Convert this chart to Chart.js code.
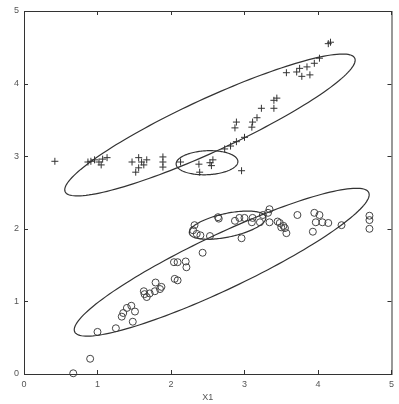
<!DOCTYPE html>
<html>
<head>
<meta charset="utf-8">
<script src="https://cdn.jsdelivr.net/npm/chart.js@4/dist/chart.umd.min.js"></script>
<style>
    html, body { margin: 0; padding: 0; background: #fff; }
    canvas { display: block; }
</style>
</head>
<body>
<canvas id="chart" width="399" height="404"></canvas>
<script>
// ===== Data =====

// '+' class
const plusX = [0.42, 0.87, 0.91, 0.96, 1.02, 1.05, 1.07, 1.13, 1.47, 1.56, 1.60, 1.63, 1.67, 1.56, 1.52,
    1.89, 1.89, 1.89, 2.13, 2.38, 2.39, 2.53, 2.57, 2.55, 2.96, 2.73, 2.81, 2.89, 3.00, 2.87, 2.89,
    3.10, 3.11, 3.17, 3.23, 3.40, 3.44, 3.40, 3.57, 3.71, 3.75, 3.78, 3.85, 3.89, 3.95, 4.02, 4.14, 4.17];
const plusY = [2.93, 2.92, 2.93, 2.95, 2.92, 2.88, 2.96, 2.98, 2.92, 2.98, 2.92, 2.88, 2.95, 2.84, 2.78,
    2.99, 2.92, 2.85, 2.92, 2.89, 2.78, 2.91, 2.95, 2.87, 2.80, 3.10, 3.14, 3.20, 3.26, 3.39, 3.47,
    3.40, 3.47, 3.53, 3.66, 3.66, 3.80, 3.77, 4.15, 4.16, 4.21, 4.10, 4.23, 4.12, 4.28, 4.35, 4.55, 4.57];

// 'o' class
const circX = [0.67, 0.90, 1.00, 1.25, 1.48, 1.33, 1.35, 1.40, 1.46, 1.51, 1.63, 1.64, 1.67, 1.71, 1.78,
    1.79, 1.85, 1.87, 2.04, 2.09, 2.20, 2.21, 2.05, 2.09, 2.43, 2.32, 2.30, 2.35, 2.40, 2.53, 2.64,
    2.65, 2.87, 2.93, 2.96, 3.00, 3.10, 3.11, 3.21, 3.25, 3.32, 3.34, 3.34, 3.45, 3.48, 3.50, 3.53,
    3.55, 3.57, 3.72, 3.95, 4.02, 3.97, 4.06, 4.14, 4.32, 3.93, 4.70, 4.70, 4.70];
const circY = [0.01, 0.21, 0.58, 0.63, 0.72, 0.79, 0.84, 0.91, 0.94, 0.86, 1.14, 1.10, 1.06, 1.11, 1.14,
    1.26, 1.17, 1.20, 1.54, 1.54, 1.55, 1.47, 1.31, 1.29, 1.67, 2.05, 1.98, 1.93, 1.91, 1.90, 2.16,
    2.14, 2.11, 2.15, 1.87, 2.15, 2.09, 2.15, 2.09, 2.19, 2.22, 2.27, 2.09, 2.10, 2.08, 2.02, 2.04,
    2.01, 1.94, 2.19, 2.22, 2.19, 2.09, 2.09, 2.08, 2.05, 1.96, 2.18, 2.12, 2.00];

// Ellipses: centre, semi-axis vector A and semi-axis vector B (data units)
const ellCx = [2.53, 2.49, 2.69, 2.77];
const ellCy = [3.43, 2.91, 1.54, 2.05];
const ellAx = [1.97, 0.42, 2.00, 0.52];
const ellAy = [0.92, 0.02, 0.96, 0.11];
const ellBx = [0.15, -0.01, 0.16, 0.03];
const ellBy = [-0.33, 0.165, -0.34, -0.16];

const tickValues = [0, 1, 2, 3, 4, 5];

const ink = '#333';

function toPoints(xs, ys) {
    return xs.map((v, i) => ({ x: v, y: ys[i] }));
}

// Ellipse outlines, every point passed through the chart's scales
const ellipsePlugin = {
    id: 'ellipses',
    afterDatasetsDraw(chart) {
        const { ctx, scales: { x, y } } = chart;
        ctx.save();
        ctx.strokeStyle = ink;
        ctx.lineWidth = 1.2;
        ellCx.forEach((cx, i) => {
            ctx.beginPath();
            for (let k = 0; k <= 160; k++) {
                const t = k / 160 * Math.PI * 2;
                const vx = cx + ellAx[i] * Math.cos(t) + ellBx[i] * Math.sin(t);
                const vy = ellCy[i] + ellAy[i] * Math.cos(t) + ellBy[i] * Math.sin(t);
                const px = x.getPixelForValue(vx);
                const py = y.getPixelForValue(vy);
                if (k === 0) ctx.moveTo(px, py); else ctx.lineTo(px, py);
            }
            ctx.closePath();
            ctx.stroke();
        });
        ctx.restore();
    }
};

// Box and inward ticks on all four sides
const framePlugin = {
    id: 'frame',
    afterDraw(chart) {
        const { ctx, chartArea: a, scales: { x, y } } = chart;
        ctx.save();
        ctx.strokeStyle = ink;
        ctx.lineWidth = 1;
        ctx.strokeRect(a.left + 0.5, a.top + 0.5, a.right - a.left, a.bottom - a.top);
        const len = 4;
        ctx.beginPath();
        tickValues.forEach(v => {
            const px = Math.round(x.getPixelForValue(v)) + 0.5;
            ctx.moveTo(px, a.bottom); ctx.lineTo(px, a.bottom - len);
            ctx.moveTo(px, a.top); ctx.lineTo(px, a.top + len);
            const py = Math.round(y.getPixelForValue(v)) + 0.5;
            ctx.moveTo(a.left, py); ctx.lineTo(a.left + len, py);
            ctx.moveTo(a.right, py); ctx.lineTo(a.right - len, py);
        });
        ctx.stroke();
        ctx.restore();
    }
};

const tickFont = { family: 'Liberation Sans', size: 9 };

new Chart(document.getElementById('chart'), {
    type: 'scatter',
    data: {
        datasets: [{
            label: 'plus',
            data: toPoints(plusX, plusY),
            pointStyle: 'cross',
            radius: 3.5,
            borderColor: ink,
            borderWidth: 1,
            clip: false
        }, {
            label: 'circle',
            data: toPoints(circX, circY),
            pointStyle: 'circle',
            radius: 3.5,
            backgroundColor: 'rgba(0,0,0,0)',
            borderColor: '#444',
            borderWidth: 1,
            clip: false
        }]
    },
    options: {
        responsive: false,
        animation: false,
        layout: { padding: { top: 11, right: 7, left: 0, bottom: 0 } },
        plugins: { legend: { display: false }, tooltip: { enabled: false } },
        scales: {
            x: {
                type: 'linear',
                min: 0, max: 5,
                afterFit: s => { s.height = 30; },
                afterBuildTicks: s => { s.ticks = tickValues.map(v => ({ value: v })); },
                grid: { display: false, drawTicks: false },
                border: { display: false },
                ticks: { color: '#555', font: tickFont, padding: 5, maxRotation: 0 },
                title: { display: true, text: 'X1', color: '#555', font: tickFont, padding: { top: 0, bottom: 1 } }
            },
            y: {
                type: 'linear',
                min: 0, max: 5,
                afterFit: s => { s.width = 24; },
                afterBuildTicks: s => { s.ticks = tickValues.map(v => ({ value: v })); },
                grid: { display: false, drawTicks: false },
                border: { display: false },
                ticks: { color: '#555', font: tickFont, padding: 5 }
            }
        }
    },
    plugins: [ellipsePlugin, framePlugin]
});
</script>
</body>
</html>
